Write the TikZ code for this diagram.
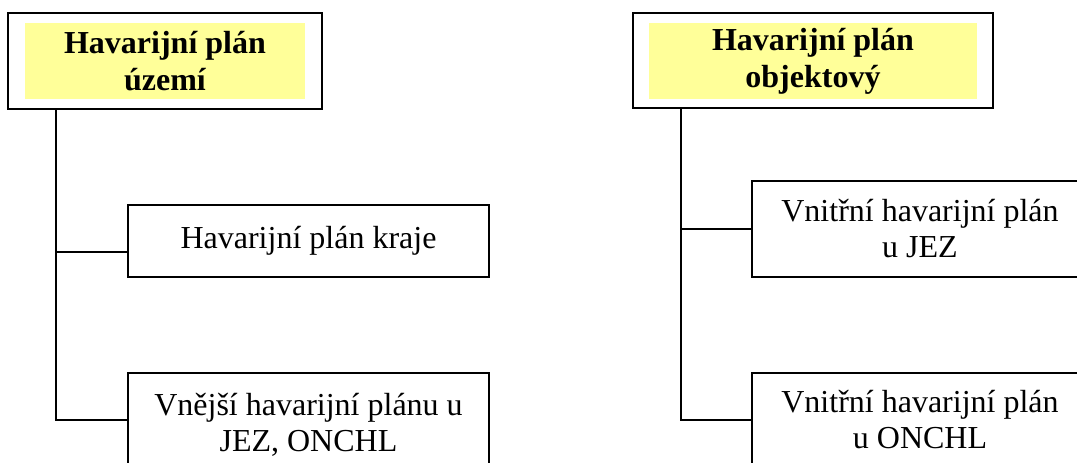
\documentclass[tikz,border=0pt]{standalone}
\usepackage{fontspec}
\setmainfont{Liberation Serif}
\usetikzlibrary{positioning}
\definecolor{planyellow}{RGB}{255,255,153}

\begin{document}
\begin{tikzpicture}[x=1pt, y=-1pt, line cap=rect, semithick]
   \tikzstyle{frame}=[rectangle, draw, line width=2.4pt, minimum width=314pt, minimum height=96pt]
   \tikzstyle{title}=[rectangle, fill=planyellow, align=center, inner sep=0pt, font=\fontsize{32}{37}\selectfont\bfseries]
   \tikzstyle{plan}=[rectangle, draw, line width=2pt, align=center, font=\fontsize{32}{36}\selectfont]
   \tikzstyle{link}=[draw, line width=2pt]

   \useasboundingbox (0,0) rectangle (1077,463);
   \clip (0,0) rectangle (1077,463);

   \node[frame] (uzemi_frame) at (165,61) {};
   \node[title, minimum width=280pt, minimum height=76pt] (uzemi) at (165,61) {Havarijní plán\\území};
   \node[frame, minimum width=360pt, minimum height=95pt] (objekt_frame) at (813,60.5) {};
   \node[title, minimum width=328pt, minimum height=76pt] (objekt) at (813,61) {Havarijní plán\\objektový};

   \node[plan, minimum width=361pt, minimum height=72pt] (kraj) at (308.5,241) {Havarijní plán kraje};
   \node[plan, minimum width=361pt, minimum height=104pt] (vnejsi) at (308.5,425) {Vnější havarijní plánu u\\JEZ, ONCHL};
   \node[plan, minimum width=336pt, minimum height=96pt] (jez) at (920,229) {Vnitřní havarijní plán\\u JEZ};
   \node[plan, minimum width=336pt, minimum height=94pt] (onchl) at (920,420) {Vnitřní havarijní plán\\u ONCHL};

   \coordinate (trunk_l) at ([xshift=49pt]uzemi_frame.south west);
   \coordinate (trunk_r) at ([xshift=49pt]objekt_frame.south west);
   \coordinate (kraj_in) at ([yshift=-11pt]kraj.west);
   \coordinate (vnejsi_in) at ([yshift=5pt]vnejsi.west);

   \path[link] (trunk_l) |- (vnejsi_in);
   \path[link] (trunk_l |- kraj_in) -- (kraj_in);
   \path[link] (trunk_r) |- (onchl.west);
   \path[link] (trunk_r |- jez.west) -- (jez.west);
\end{tikzpicture}
\end{document}
